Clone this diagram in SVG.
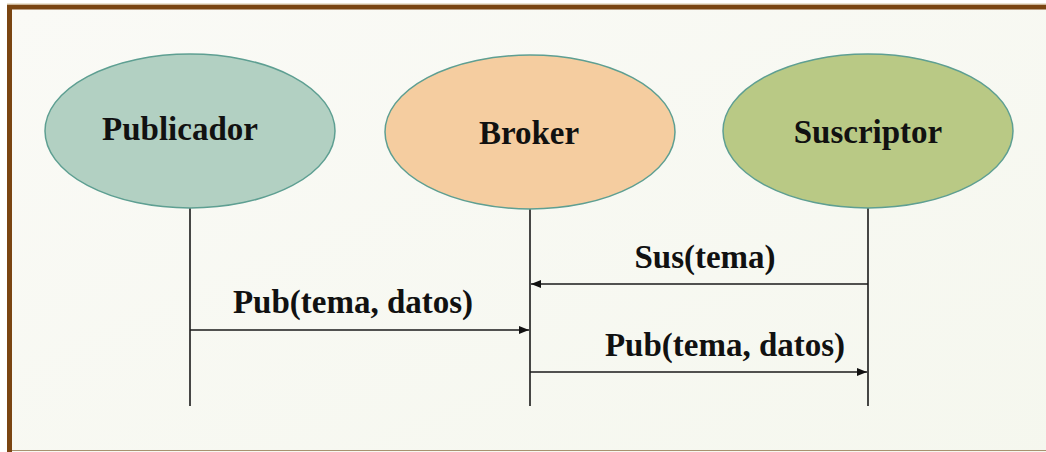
<svg xmlns="http://www.w3.org/2000/svg" width="1046" height="452" viewBox="0 0 1046 452">
  <defs>
    <linearGradient id="paper" x1="0" y1="0" x2="1" y2="1">
      <stop offset="0" stop-color="#fafaf6"/>
      <stop offset="1" stop-color="#f5f7ee"/>
    </linearGradient>
    <marker id="arrow" viewBox="0 0 10 10" refX="10" refY="5" markerWidth="10" markerHeight="10" markerUnits="userSpaceOnUse" orient="auto">
      <path d="M0,1 L10,5 L0,9 Z" fill="#111"/>
    </marker>
    <style>
      .node ellipse { stroke: #5e9f92; stroke-width: 1.5; }
      .label { font-family: "Liberation Serif", "Times New Roman", serif; font-weight: bold; font-size: 33px; fill: #111; text-anchor: middle; }
      .life { stroke: #1a1a1a; stroke-width: 1.6; fill: none; }
      .msg { stroke: #1a1a1a; stroke-width: 1.6; fill: none; marker-end: url(#arrow); }
    </style>
  </defs>

  <!-- page and frame -->
  <rect x="0" y="0" width="1046" height="452" fill="#ffffff"/>
  <rect x="9.5" y="7" width="1060" height="460" fill="url(#paper)" stroke="#7a4512" stroke-width="5"/>
  <rect x="7" y="3.5" width="1046" height="1" fill="#d9c9a8"/>
  <line x1="12" y1="450.5" x2="1046" y2="450.5" stroke="#a89270" stroke-width="1.2"/>

  <!-- lifelines and messages -->
  <g id="connectors">
    <line class="life" x1="190" y1="208" x2="190" y2="406"/>
    <line class="life" x1="530" y1="209" x2="530" y2="406"/>
    <line class="life" x1="868" y1="208" x2="868" y2="406"/>
    <line class="msg" x1="868" y1="284" x2="531" y2="284"/>
    <line class="msg" x1="190" y1="330" x2="529" y2="330"/>
    <line class="msg" x1="530" y1="372" x2="867" y2="372"/>
    <text class="label" x="705" y="268">Sus(tema)</text>
    <text class="label" x="353" y="313">Pub(tema, datos)</text>
    <text class="label" x="725" y="356">Pub(tema, datos)</text>
  </g>

  <g id="publicador" class="node">
    <ellipse cx="190" cy="131" rx="145" ry="77" fill="#b2d0c2"/>
    <text class="label" x="180" y="140">Publicador</text>
  </g>
  <g id="broker" class="node">
    <ellipse cx="530" cy="132" rx="145" ry="77" fill="#f5cda0"/>
    <text class="label" x="529" y="144">Broker</text>
  </g>
  <g id="suscriptor" class="node">
    <ellipse cx="868" cy="131" rx="145" ry="77" fill="#b9c985"/>
    <text class="label" x="868" y="143">Suscriptor</text>
  </g>
</svg>
